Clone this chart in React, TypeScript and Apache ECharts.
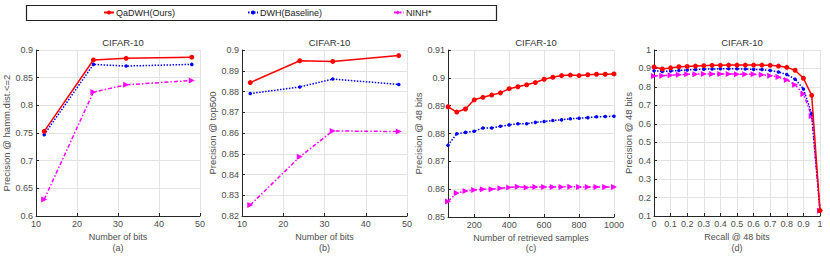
import React, { useEffect, useRef } from "react";
import * as echarts from "echarts";

const bitsX = [12, 24, 32, 48];
const aQa = [0.753, 0.882, 0.885, 0.887];
const aDwh = [0.747, 0.874, 0.871, 0.874];
const aNinh = [0.63, 0.824, 0.837, 0.845];

const bQa = [0.8843, 0.8948, 0.8945, 0.8973];
const bDwh = [0.879, 0.8822, 0.886, 0.8834];
const bNinh = [0.8253, 0.8485, 0.861, 0.8607];

const samplesX = [50, 100, 150, 200, 250, 300, 350, 400, 450, 500, 550, 600, 650, 700, 750, 800, 850, 900, 950, 1000];
const cQa = [0.8896, 0.8877, 0.8888, 0.8921, 0.893, 0.8938, 0.8946, 0.8961, 0.8968, 0.8975, 0.8983, 0.8995, 0.9002, 0.9008, 0.901, 0.9008, 0.9011, 0.9013, 0.9013, 0.9014];
const cDwh = [0.8758, 0.8799, 0.8804, 0.8808, 0.882, 0.882, 0.8826, 0.8831, 0.8835, 0.8835, 0.884, 0.8843, 0.8847, 0.8849, 0.8853, 0.8855, 0.8857, 0.886, 0.8861, 0.8862];
const cNinh = [0.8556, 0.8586, 0.8593, 0.8597, 0.86, 0.86, 0.8603, 0.8606, 0.8609, 0.8606, 0.8608, 0.8608, 0.8608, 0.8608, 0.8609, 0.8608, 0.8608, 0.8608, 0.8608, 0.8608];

const recallX = [0, 0.05, 0.1, 0.15, 0.2, 0.25, 0.3, 0.35, 0.4, 0.45, 0.5, 0.55, 0.6, 0.65, 0.7, 0.75, 0.8, 0.85, 0.9, 0.95, 1.0];
const dQa = [0.908, 0.897, 0.903, 0.909, 0.911, 0.913, 0.915, 0.917, 0.917, 0.918, 0.918, 0.918, 0.918, 0.918, 0.917, 0.913, 0.906, 0.89, 0.847, 0.754, 0.13];
const dDwh = [0.888, 0.884, 0.886, 0.889, 0.892, 0.894, 0.896, 0.897, 0.898, 0.898, 0.898, 0.897, 0.895, 0.894, 0.889, 0.881, 0.867, 0.842, 0.789, 0.655, 0.128];
const dNinh = [0.859, 0.861, 0.863, 0.866, 0.868, 0.869, 0.87, 0.87, 0.87, 0.87, 0.869, 0.869, 0.868, 0.866, 0.861, 0.853, 0.838, 0.811, 0.762, 0.642, 0.128];

const names = ["QaDWH(Ours)", "DWH(Baseline)", "NINH*"];
const colors = ["#ff0000", "#0000ff", "#ff00ff"];

const FONT = "Liberation Sans";

const grids = [
  { left: 36, top: 50, width: 164, height: 166 },
  { left: 242, top: 50, width: 165, height: 166 },
  { left: 448, top: 50, width: 166, height: 167 },
  { left: 654, top: 50, width: 166, height: 166 },
];

function fmt(v: number) {
  return String(+v.toFixed(3));
}

export default function App() {
  const ref = useRef<HTMLDivElement>(null);
  useEffect(() => {
    const chart = echarts.init(ref.current!, null, { renderer: "svg" });
    const axisCommon = {
      axisLine: { show: true, onZero: false, lineStyle: { color: "#262626", width: 1 } },
      axisTick: { show: true, inside: true, length: 3, lineStyle: { color: "#262626" } },
      axisLabel: { color: "#4d4d4d", fontSize: 9, fontFamily: FONT, formatter: fmt, margin: 3 },
      splitLine: { show: true, lineStyle: { color: "#e3e3e3", width: 1 } },
      nameTextStyle: { color: "#4d4d4d", fontSize: 9.5, fontFamily: FONT },
    };
    const xName = { nameLocation: "middle", nameGap: 11, nameTextStyle: { ...axisCommon.nameTextStyle, fontSize: 9, verticalAlign: "middle" } };
    const xAxes: any[] = [
      { ...axisCommon, ...xName, gridIndex: 0, type: "value", min: 10, max: 50, interval: 10, name: "Number of bits" },
      { ...axisCommon, ...xName, gridIndex: 1, type: "value", min: 10, max: 50, interval: 10, name: "Number of bits" },
      {
        ...axisCommon, ...xName, gridIndex: 2, type: "value", min: 50, max: 1000, name: "Number of retrieved samples",
        axisTick: { ...axisCommon.axisTick, customValues: [200, 400, 600, 800, 1000] },
        axisLabel: { ...axisCommon.axisLabel, customValues: [200, 400, 600, 800, 1000] },
      },
      { ...axisCommon, ...xName, gridIndex: 3, type: "value", min: 0, max: 1, interval: 0.1, name: "Recall @ 48 bits" },
    ];
    const yAxes: any[] = [
      { ...axisCommon, gridIndex: 0, type: "value", min: 0.6, max: 0.9, interval: 0.05, name: "Precision @ hamm.dist.<=2", nameLocation: "middle", nameGap: 25 },
      { ...axisCommon, gridIndex: 1, type: "value", min: 0.82, max: 0.9, interval: 0.01, name: "Precision @ top500", nameLocation: "middle", nameGap: 25 },
      { ...axisCommon, gridIndex: 2, type: "value", min: 0.85, max: 0.91, interval: 0.01, name: "Precision @ 48 bits", nameLocation: "middle", nameGap: 25 },
      { ...axisCommon, gridIndex: 3, type: "value", min: 0.1, max: 1, interval: 0.1, name: "Precision @ 48 bits", nameLocation: "middle", nameGap: 21 },
    ];
    const sets = [
      [bitsX, [aQa, aDwh, aNinh]],
      [bitsX, [bQa, bDwh, bNinh]],
      [samplesX, [cQa, cDwh, cNinh]],
      [recallX, [dQa, dDwh, dNinh]],
    ] as [number[], number[][]][];
    const styles = [
      { symbol: "circle", symbolSize: 5, lineType: "solid" as any, symbolRotate: 0 },
      { symbol: "circle", symbolSize: 3.5, lineType: [1.5, 1.5] as any, symbolRotate: 0 },
      { symbol: "triangle", symbolSize: 6, lineType: [4, 2, 1.5, 2] as any, symbolRotate: -90 },
    ];
    const series: any[] = [];
    sets.forEach(([xs, ys], gi) => {
      ys.forEach((vals, si) => {
        series.push({
          type: "line",
          name: names[si],
          xAxisIndex: gi,
          yAxisIndex: gi,
          data: xs.map((x, i) => [x, vals[i]]),
          symbol: styles[si].symbol,
          symbolSize: styles[si].symbolSize,
          symbolRotate: styles[si].symbolRotate,
          showAllSymbol: true,
          z: 10 - si,
          lineStyle: { color: colors[si], width: 1.5, type: styles[si].lineType },
          itemStyle: { color: colors[si], borderWidth: 0 },
        });
      });
    });
    const titles = grids.map((g) => ({
      text: "CIFAR-10",
      left: g.left + g.width / 2,
      top: 32,
      textAlign: "center",
      textStyle: { fontSize: 9.5, fontWeight: 400, color: "#333", fontFamily: FONT },
    }));
    const subLabels = ["(a)", "(b)", "(c)", "(d)"];
    const legendLefts = [103, 247, 393];
    chart.setOption({
      animation: false,
      backgroundColor: "#ffffff",
      title: titles,
      grid: grids,
      xAxis: xAxes,
      yAxis: yAxes,
      legend: names.map((n, i) => ({
        data: [n],
        left: legendLefts[i],
        top: 8,
        itemWidth: 10,
        itemHeight: 5,
        itemGap: 2,
        textStyle: { fontSize: 9, color: "#222", fontFamily: FONT, padding: [0, 0, 0, -3] },
        padding: 0,
        selectedMode: false,
      })),
      graphic: [
        {
          type: "rect",
          shape: { x: 26.5, y: 5.5, width: 470, height: 15 },
          style: { fill: "none", stroke: "#222", lineWidth: 1.2 },
          z: -1,
        },
        ...grids.map((g, i) => ({
          type: "text",
          x: g.left + g.width / 2,
          y: 248,
          style: { text: subLabels[i], fontSize: 9, fill: "#4d4d4d", fontFamily: FONT, textAlign: "center", textVerticalAlign: "middle" },
        })),
      ],
      series,
    });
    return () => chart.dispose();
  }, []);
  return <div ref={ref} style={{ position: "fixed", left: 0, top: 0, width: 830, height: 259 }} />;
}
